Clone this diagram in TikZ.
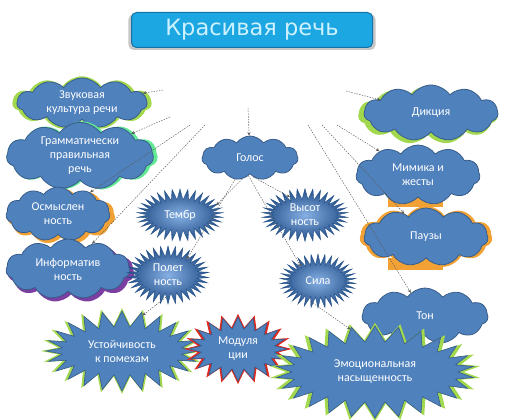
\documentclass[tikz,border=0pt]{standalone}
\usepackage{fontspec}
\setmainfont{Carlito}
\newfontfamily\titlefont{DejaVu Sans}
\usetikzlibrary{shapes.symbols,shadows,arrows.meta}

\definecolor{cloudblue}{HTML}{4F81BD}
\definecolor{cloudline}{HTML}{385D8A}
\definecolor{starin}{HTML}{86B0E4}
\definecolor{starout}{HTML}{234F88}
\definecolor{titleblue}{HTML}{1CA6E2}
\definecolor{titleline}{HTML}{1673A8}
\definecolor{titletext}{HTML}{CDF2FF}
\definecolor{glowgreen}{HTML}{A2D84E}
\definecolor{gloworange}{HTML}{F2A235}
\definecolor{glowpurple}{HTML}{7A3FA0}
\definecolor{glowred}{HTML}{E0281E}

\tikzset{
  cloudbox/.style={cloud, cloud puffs=11, cloud puff arc=110, cloud ignores aspect,
    fill=cloudblue, draw=cloudline, line width=0.8pt, text=white,
    align=center, font=\fontsize{12}{14}\selectfont, inner sep=0pt},
  smallstar/.style={starburst, starburst points=34, starburst point height=11pt,
    random starburst=0, inner color=starin, outer color=starout,
    draw=starout, line width=0.4pt, text=white, align=center,
    font=\fontsize{12}{14}\selectfont, inner sep=0pt},
  bigstar/.style={starburst, starburst points=24, starburst point height=16pt,
    random starburst=0, fill=cloudblue, draw=cloudline, line width=0.6pt,
    text=white, align=center, font=\fontsize{12}{14}\selectfont, inner sep=0pt},
  glow/.style={general shadow={fill=#1, shadow scale=1.07}},
  conn/.style={-{Stealth[length=3.5pt,width=3pt]}, gray!70!black,
    line width=0.45pt, dash pattern=on 1.5pt off 1.2pt},
}

\begin{document}
\begin{tikzpicture}[x=1pt,y=-1pt]
  \useasboundingbox (0,0) rectangle (507,420);

  % title
  \node[rounded corners=5pt, fill=titleblue, draw=titleline, line width=1pt,
    minimum width=241pt, minimum height=35pt, text=titletext,
    font=\titlefont\fontsize{22.5}{26}\selectfont,
    general shadow={fill=gray!45, shadow scale=1.025, shadow yshift=-2pt}]
    (title) at (252,30) {Красивая речь};

  % orange plates under the clouds on the right
  \fill[gloworange] (388,196) rectangle (443,207);
  \fill[gloworange] (388,258) rectangle (443,270);

  % clouds
  \node[cloudbox, glow=glowgreen, minimum width=130pt, minimum height=50pt]
    (zvuk) at (82,103) {Звуковая\\культура речи};
  \node[cloudbox, general shadow={fill=glowgreen!60!cyan, shadow scale=1.03, shadow xshift=2pt},
    minimum width=147pt, minimum height=60pt]
    (gramm) at (80,156) {Грамматически\\правильная\\речь};
  \node[cloudbox, general shadow={fill=gloworange, shadow scale=1.04, shadow xshift=3pt, shadow yshift=-2pt},
    minimum width=104pt, minimum height=54pt]
    (osm) at (58,214) {Осмыслен\\ность};
  \node[cloudbox, general shadow={fill=glowpurple, shadow scale=1.02, shadow xshift=3pt, shadow yshift=-3pt},
    minimum width=124pt, minimum height=60pt]
    (inf) at (68,269) {Информатив\\ность};
  \node[cloudbox, minimum width=96pt, minimum height=44pt]
    (golos) at (250,158) {Голос};
  \node[cloudbox, general shadow={fill=glowgreen, shadow scale=1.04, shadow xshift=-3pt, shadow yshift=-2pt},
    minimum width=134pt, minimum height=56pt]
    (dikc) at (431,113) {Дикция};
  \node[cloudbox, minimum width=124pt, minimum height=60pt]
    (mimika) at (418,175) {Мимика и\\жесты};
  \node[cloudbox, glow=gloworange, minimum width=124pt, minimum height=58pt]
    (pauzy) at (426,237) {Паузы};
  \node[cloudbox, minimum width=126pt, minimum height=56pt]
    (ton) at (425,316) {Тон};

  % stars
  \node[smallstar, minimum width=86pt, minimum height=52pt] (tembr) at (180,215) {Тембр};
  \node[smallstar, minimum width=86pt, minimum height=52pt] (vysot) at (305,215) {Высот\\ность};
  \node[smallstar, minimum width=82pt, minimum height=58pt] (polet) at (168,275) {Полет\\ность};
  \node[smallstar, minimum width=76pt, minimum height=54pt] (sila) at (318,281) {Сила};
  \node[bigstar, glow=glowgreen, minimum width=152pt, minimum height=80pt]
    (ustoi) at (122,351) {Устойчивость\\к помехам};
  \node[bigstar, general shadow={fill=glowred, shadow scale=1.1}, starburst points=20,
    starburst point height=12pt, minimum width=98pt, minimum height=64pt]
    (modul) at (238,349) {Модуля\\ции};
  \node[bigstar, glow=glowgreen, starburst points=26, minimum width=198pt, minimum height=92pt]
    (emoc) at (375,372) {Эмоциональная\\насыщенность};

  % dashed pointers
  \coordinate (s1) at (163,90);
  \coordinate (s2) at (170,117);
  \coordinate (s3) at (190,125);
  \coordinate (s4) at (205,125);
  \coordinate (s5) at (248,108);
  \coordinate (s6) at (346,91);
  \coordinate (s7) at (337,125);
  \coordinate (s8) at (322,125);
  \coordinate (s9) at (308,125);
  \draw[conn] (s1) -- (zvuk);
  \draw[conn] (s2) -- (gramm);
  \draw[conn] (s3) -- (osm);
  \draw[conn] (s4) -- (inf);
  \draw[conn] (s5) -- (golos);
  \draw[conn] (s6) -- (dikc);
  \draw[conn] (s7) -- (mimika);
  \draw[conn] (s8) -- (pauzy);
  \draw[conn] (s9) -- (ton);
  \draw[conn] (golos.250) -- (tembr.15);
  \draw[conn] (golos.235) -- (polet.40);
  \draw[conn] (golos.280) -- (vysot.130);
  \draw[conn] (golos.265) -- (sila.140);
  \draw[conn] (polet.265) -- (ustoi.60);
  \draw[conn] (sila.250) -- (emoc.120);
\end{tikzpicture}
\end{document}
